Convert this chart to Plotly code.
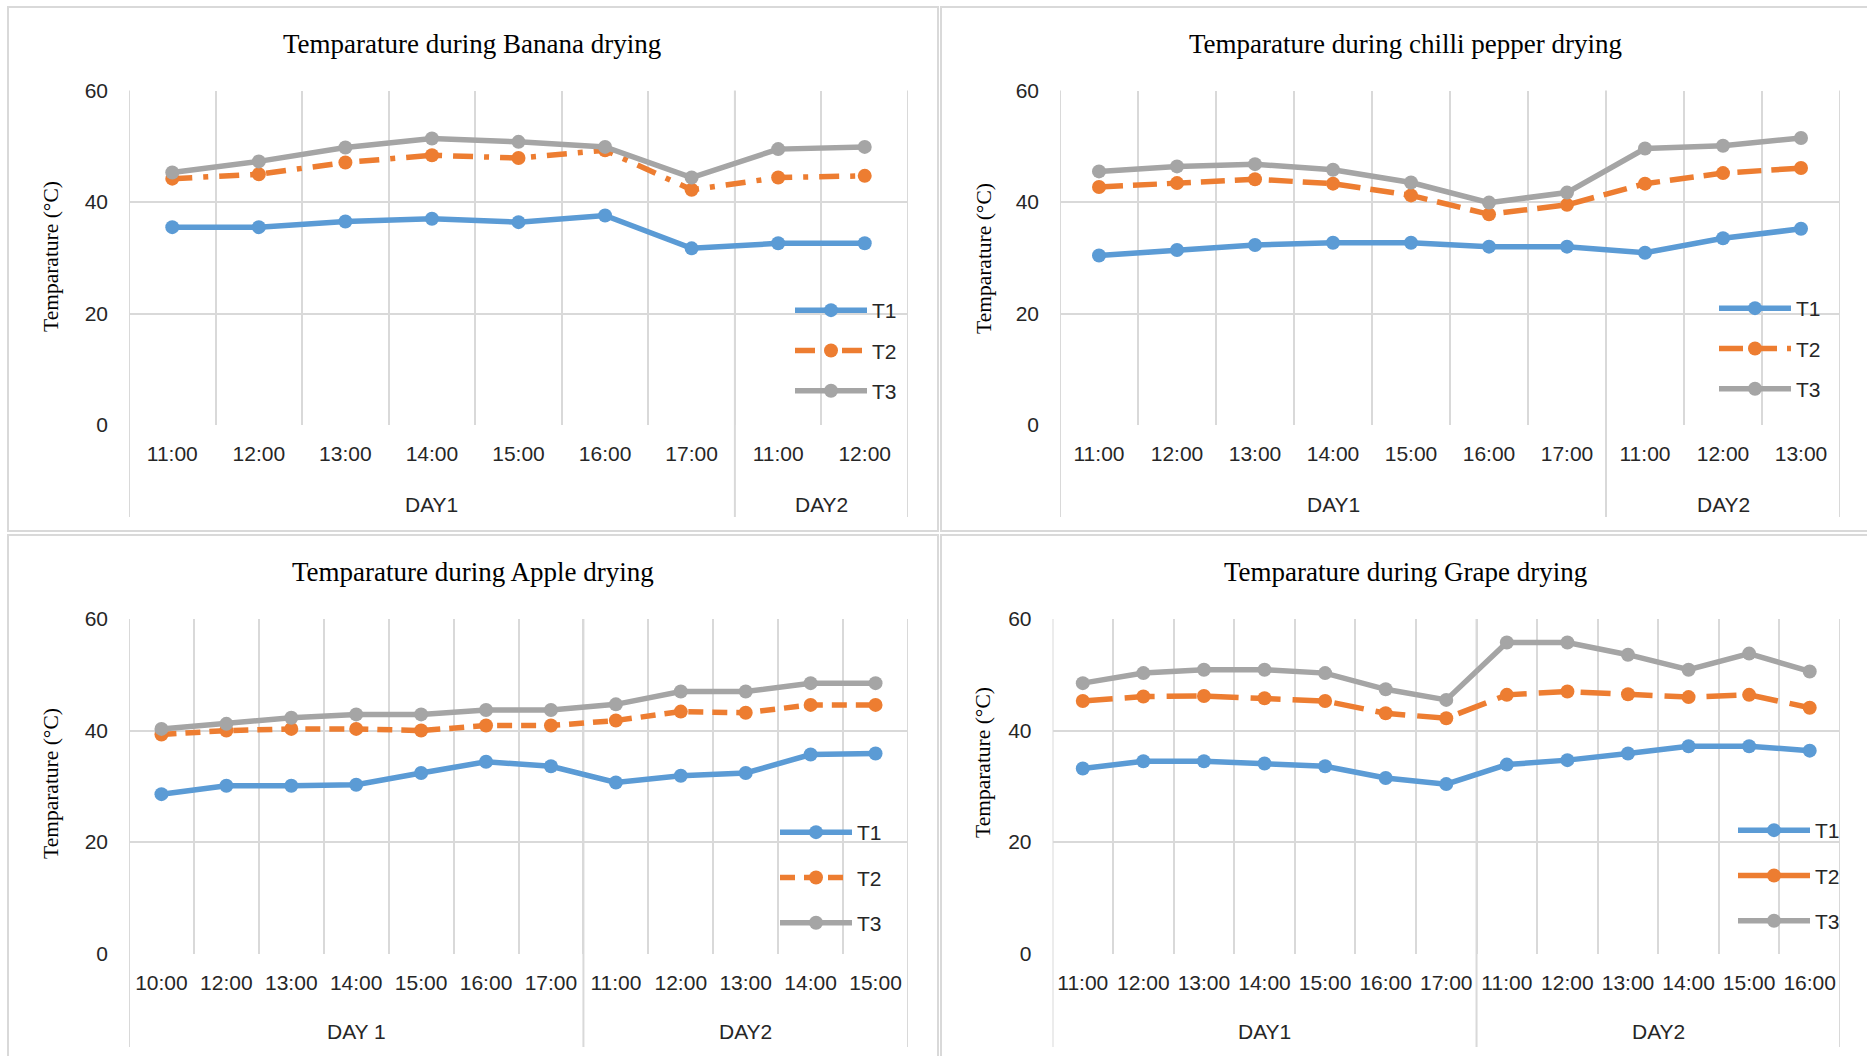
import plotly.graph_objects as go

W, H = 1867, 1056

# ---------------- data ----------------
series_names = ["T1", "T2", "T3"]

banana_title = "Temparature during Banana drying"
banana_times = ["11:00", "12:00", "13:00", "14:00", "15:00", "16:00", "17:00", "11:00", "12:00"]
banana_days = ["DAY1", "DAY2"]
banana_day_counts = [7, 2]
banana_t1 = [35.5, 35.5, 36.5, 37.0, 36.4, 37.6, 31.7, 32.6, 32.6]
banana_t2 = [44.2, 45.0, 47.1, 48.4, 47.9, 49.3, 42.2, 44.4, 44.7]
banana_t3 = [45.3, 47.3, 49.8, 51.4, 50.8, 49.9, 44.4, 49.5, 49.9]

chilli_title = "Temparature during chilli pepper drying"
chilli_times = ["11:00", "12:00", "13:00", "14:00", "15:00", "16:00", "17:00", "11:00", "12:00", "13:00"]
chilli_days = ["DAY1", "DAY2"]
chilli_day_counts = [7, 3]
chilli_t1 = [30.4, 31.4, 32.3, 32.7, 32.7, 32.0, 32.0, 30.9, 33.5, 35.2]
chilli_t2 = [42.7, 43.4, 44.1, 43.3, 41.2, 37.8, 39.5, 43.3, 45.2, 46.1]
chilli_t3 = [45.5, 46.4, 46.8, 45.8, 43.5, 39.9, 41.7, 49.6, 50.1, 51.5]

apple_title = "Temparature during Apple drying"
apple_times = ["10:00", "12:00", "13:00", "14:00", "15:00", "16:00", "17:00",
               "11:00", "12:00", "13:00", "14:00", "15:00"]
apple_days = ["DAY 1", "DAY2"]
apple_day_counts = [7, 5]
apple_t1 = [28.6, 30.1, 30.1, 30.3, 32.4, 34.4, 33.6, 30.7, 31.9, 32.4, 35.7, 35.9]
apple_t2 = [39.3, 40.0, 40.3, 40.3, 40.0, 40.9, 40.9, 41.8, 43.4, 43.2, 44.6, 44.6]
apple_t3 = [40.3, 41.2, 42.3, 42.9, 42.9, 43.7, 43.7, 44.7, 47.0, 47.0, 48.5, 48.5]

grape_title = "Temparature during Grape drying"
grape_times = ["11:00", "12:00", "13:00", "14:00", "15:00", "16:00", "17:00",
               "11:00", "12:00", "13:00", "14:00", "15:00", "16:00"]
grape_days = ["DAY1", "DAY2"]
grape_day_counts = [7, 6]
grape_t1 = [33.2, 34.5, 34.5, 34.1, 33.6, 31.5, 30.4, 33.9, 34.7, 35.9, 37.2, 37.2, 36.4]
grape_t2 = [45.3, 46.1, 46.2, 45.8, 45.3, 43.1, 42.2, 46.4, 47.0, 46.5, 46.0, 46.4, 44.1]
grape_t3 = [48.5, 50.3, 50.9, 50.9, 50.3, 47.4, 45.5, 55.8, 55.8, 53.6, 50.9, 53.8, 50.6]

y_ticks = [0, 20, 40, 60]
y_title = "Temparature (°C)"

# ---------------- styling / layout ----------------
colors = ["#5b9bd5", "#ed7d31", "#a5a5a5"]
SANS = "Liberation Sans, Arial, sans-serif"
SERIF = "Liberation Serif, Times New Roman, serif"
GRID = "#d9d9d9"
TXT = "#262626"


def xp(px):
    return px / W


def yp(py):
    return 1 - py / H


panels = [
    dict(title=banana_title, times=banana_times, days=banana_days, counts=banana_day_counts,
         vals=[banana_t1, banana_t2, banana_t3], dash="20px,11px,5px,11px",
         left=129, right=908, top=90.6, bottom=425, cat_y=457, day_y=504, ext=517,
         title_x=472, title_y=44, ytitle_x=51, ytitle_y=257,
         leg_x=790, leg_y=290, leg_gap=10),
    dict(title=chilli_title, times=chilli_times, days=chilli_days, counts=chilli_day_counts,
         vals=[chilli_t1, chilli_t2, chilli_t3], dash="24px,10px",
         left=1060, right=1840, top=90.6, bottom=425, cat_y=457, day_y=504, ext=517,
         title_x=1405, title_y=44, ytitle_x=984, ytitle_y=258,
         leg_x=1714, leg_y=288, leg_gap=10),
    dict(title=apple_title, times=apple_times, days=apple_days, counts=apple_day_counts,
         vals=[apple_t1, apple_t2, apple_t3], dash="15px,9px",
         left=129, right=908, top=619, bottom=953.7, cat_y=984.5, day_y=1031, ext=1047,
         title_x=473, title_y=572, ytitle_x=51, ytitle_y=784,
         leg_x=775, leg_y=812, leg_gap=15),
    dict(title=grape_title, times=grape_times, days=grape_days, counts=grape_day_counts,
         vals=[grape_t1, grape_t2, grape_t3], dash="30px,12px",
         left=1052.5, right=1840, top=619, bottom=953.7, cat_y=984.5, day_y=1031, ext=1047,
         title_x=1405, title_y=572, ytitle_x=983, ytitle_y=763,
         leg_x=1733, leg_y=810, leg_gap=15),
]

fig = go.Figure()
layout = dict(width=W, height=H, margin=dict(l=0, r=0, t=0, b=0, pad=0, autoexpand=False),
              paper_bgcolor="white", plot_bgcolor="white", showlegend=True)
annotations = []
shapes = []

for i, p in enumerate(panels):
    k = i + 1
    sfx = "" if k == 1 else str(k)
    n = len(p["times"])
    xs = list(range(n))
    legend_name = "legend" if k == 1 else f"legend{k}"

    for j, (name, vals) in enumerate(zip(series_names, p["vals"])):
        fig.add_trace(go.Scatter(
            x=xs, y=vals, name=name, mode="lines+markers",
            line=dict(color=colors[j], width=5.5,
                      dash=(p["dash"] if j == 1 else "solid")),
            marker=dict(color=colors[j], size=14, symbol="circle"),
            xaxis=f"x{sfx}", yaxis=f"y{sfx}",
            legend=legend_name, legendgroup=f"{k}-{name}",
            hoverinfo="skip",
        ))

    layout[f"xaxis{sfx}"] = dict(
        domain=[xp(p["left"]), xp(p["right"])], anchor=f"y{sfx}",
        range=[-0.5, n - 0.5], tickmode="array", tickvals=xs, ticktext=p["times"],
        showgrid=False, zeroline=False, showline=False, ticks="",
        ticklabelstandoff=14, automargin=False,
        tickfont=dict(family=SANS, size=21, color=TXT),
        minor=dict(tickmode="linear", tick0=0.5, dtick=1, showgrid=True,
                   gridcolor=GRID, gridwidth=1.5),
        fixedrange=True,
    )
    layout[f"yaxis{sfx}"] = dict(
        domain=[yp(p["bottom"]), yp(p["top"])], anchor=f"x{sfx}",
        range=[0, 60], tickvals=y_ticks, showgrid=True, gridcolor=GRID, gridwidth=2,
        zeroline=False, showline=False, ticks="", ticklabelstandoff=20, automargin=False,
        tickfont=dict(family=SANS, size=21, color=TXT), fixedrange=True,
    )
    layout[legend_name] = dict(
        x=xp(p["leg_x"]), y=yp(p["leg_y"]), xanchor="left", yanchor="top",
        bgcolor="rgba(0,0,0,0)", font=dict(family=SANS, size=21, color=TXT),
        tracegroupgap=p["leg_gap"], itemwidth=72, traceorder="grouped",
    )

    # category-group dividers (left edge, between days, right edge)
    bounds = [-0.5]
    acc = 0
    for c in p["counts"]:
        acc += c
        bounds.append(acc - 0.5)
    for b in bounds:
        shapes.append(dict(type="line", xref=f"x{sfx}", yref="paper",
                           x0=b, x1=b, y0=yp(p["ext"]), y1=yp(p["top"]),
                           line=dict(color=GRID, width=2), layer="below"))
    # day labels
    for d, b0, b1 in zip(p["days"], bounds[:-1], bounds[1:]):
        annotations.append(dict(text=d, xref=f"x{sfx}", yref="paper",
                                x=(b0 + b1) / 2, y=yp(p["day_y"]), showarrow=False,
                                xanchor="center", yanchor="middle",
                                font=dict(family=SANS, size=21, color=TXT)))
    # panel title
    annotations.append(dict(text=p["title"], xref="paper", yref="paper",
                            x=xp(p["title_x"]), y=yp(p["title_y"]), showarrow=False,
                            xanchor="center", yanchor="middle",
                            font=dict(family=SERIF, size=27, color="black")))
    # y axis title
    annotations.append(dict(text=y_title, xref="paper", yref="paper",
                            x=xp(p["ytitle_x"]), y=yp(p["ytitle_y"]), showarrow=False,
                            textangle=-90, xanchor="center", yanchor="middle",
                            font=dict(family=SERIF, size=21.5, color="black")))

# panel frames
for (x0, y0, x1, y1) in [(8, 7, 938, 531), (941, 7, 1875, 531),
                         (8, 535, 938, 1070), (941, 535, 1875, 1070)]:
    shapes.append(dict(type="rect", xref="paper", yref="paper",
                       x0=xp(x0), x1=xp(x1), y0=yp(y1), y1=yp(y0),
                       line=dict(color=GRID, width=2), fillcolor="rgba(0,0,0,0)",
                       layer="below"))

layout["annotations"] = annotations
layout["shapes"] = shapes
fig.update_layout(**layout)

fig.write_html("out.html")
